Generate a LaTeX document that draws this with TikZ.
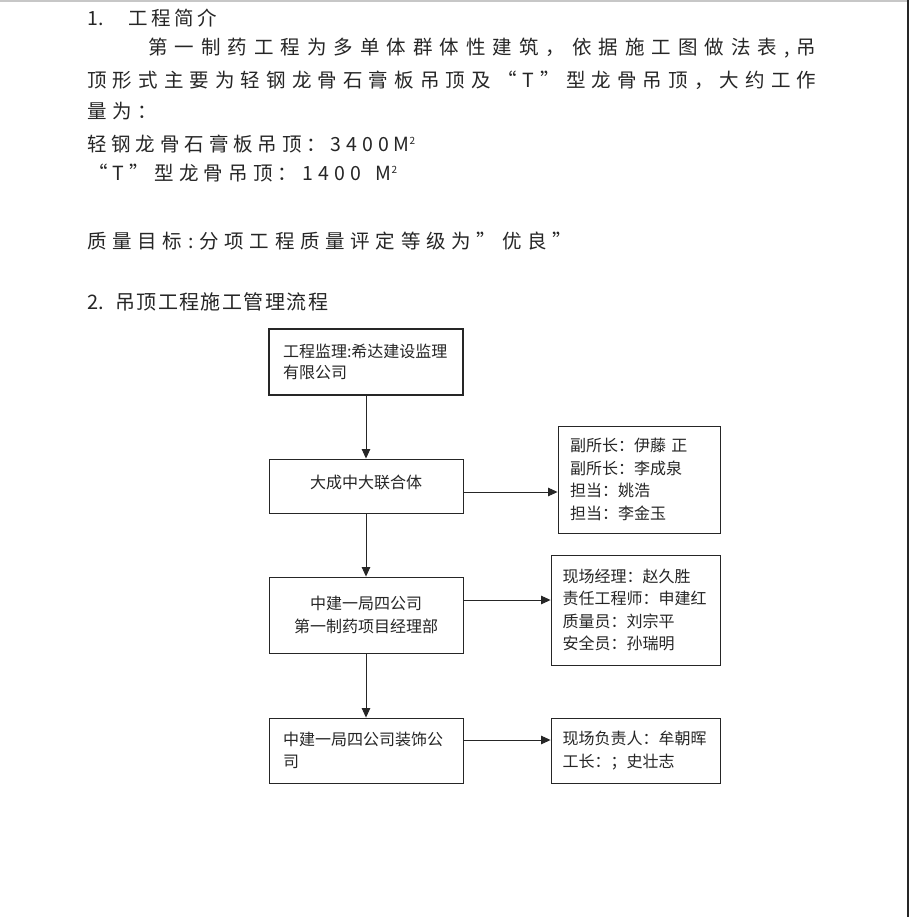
\documentclass[tikz,border=0pt]{standalone}
\usepackage{fontspec}
\setmainfont{Noto Sans CJK SC}
\usetikzlibrary{arrows.meta,calc}

% 均匀拉开一行文字
\newcommand\spreadtext[2]{\makebox[#1pt][s]{\spreadfirst#2\relax}}
\def\spreadfirst#1{#1\spreadnext}
\def\spreadnext#1{\ifx\relax#1\else\hfill#1\expandafter\spreadnext\fi}
\newcommand\sqm{\raisebox{6.5pt}{\fontsize{10}{10}\selectfont 2}}

\begin{document}
\begin{tikzpicture}[x=1pt,y=-1pt,
    body/.style={anchor=west, inner sep=0pt, text=black!85, font=\fontsize{19.5}{23}\selectfont},
    box/.style={draw=black!85, line width=0.9pt, minimum width=194pt, inner sep=0pt,
        align=center, text=black!85, font=\fontsize{16}{22.5}\selectfont},
    side/.style={box, minimum width=169pt, text width=146pt, align=left},
    arr/.style={draw=black!85, line width=0.9pt, -{Triangle[length=9.5pt,width=8.5pt]}}]
    \useasboundingbox (0,0) rectangle (909,917);
    \fill[white] (0,0) rectangle (909,917);
    \fill[black!22] (0,0) rectangle (907,2.5);
    \fill[black!85] (906.5,0) rectangle (909,917);

    % 1. 工程简介
    \node[body] (t1) at (87,18.5) {\makebox[41pt][l]{1.}\spreadtext{89}{工程简介}};
    \node[body] (t2) at (148,48) {\spreadtext{668}{第一制药工程为多单体群体性建筑，依据施工图做法表,吊}};
    \node[body] (t3) at (87,80) {\spreadtext{729}{顶形式主要为轻钢龙骨石膏板吊顶及“T”型龙骨吊顶，大约工作}};
    \node[body] (t4) at (87,111) {\spreadtext{69.5}{量为：}};
    \node[body] (t5) at (87,144) {\spreadtext{328}{轻钢龙骨石膏板吊顶：3400{M\sqm}}};
    \node[body] (t6) at (88,173) {\spreadtext{309}{“T”型龙骨吊顶：1400{\ }{M\sqm}}};
    \node[body] (t8) at (87,241) {\spreadtext{485}{质量目标:分项工程质量评定等级为"优良"}};

    % 2. 管理流程
    \node[body, font=\fontsize{20}{24}\selectfont] (t9) at (87,302)
        {\makebox[28pt][l]{2.}\spreadtext{213}{吊顶工程施工管理流程}};

    \node[box, line width=1.6pt, minimum height=66pt, text width=166pt, align=left,
        font=\fontsize{16}{21}\selectfont] (sup) at (366,362) {工程监理:希达建设监理\\有限公司};
    \node[box, minimum height=54pt] (jv) at (366,486) {\raisebox{4pt}[\height][\depth]{大成中大联合体}};
    \node[box, minimum height=76pt] (pm) at (366,615) {中建一局四公司\\第一制药项目经理部};
    \node[box, minimum height=65pt, text width=166pt, align=left] (deco) at (366,750.5)
        {中建一局四公司装饰公\\司};

    \node[side, minimum width=162pt, text width=138pt, minimum height=107pt] (ra) at (639,479.5)
        {副所长：伊藤 正\\副所长：李成泉\\担当：姚浩\\担当：李金玉};
    \node[side, minimum height=110pt] (rb) at (635.5,610)
        {现场经理：赵久胜\\责任工程师：申建红\\质量员：刘宗平\\安全员：孙瑞明};
    \node[side, minimum height=65pt] (rc) at (635.5,750.5)
        {现场负责人：牟朝晖\\工长：；史壮志};

    \draw[arr] (sup) -- (jv);
    \draw[arr] (jv) -- (pm);
    \draw[arr] (pm) -- (deco);

    \draw[arr] ([yshift=-6pt]jv.east) -- ([yshift=-6pt]jv.east -| ra.west);
    \draw[arr] ([yshift=15pt]pm.east) -- ([yshift=15pt]pm.east -| rb.west);
    \draw[arr] ([yshift=10.5pt]deco.east) -- ([yshift=10.5pt]deco.east -| rc.west);
\end{tikzpicture}
\end{document}
